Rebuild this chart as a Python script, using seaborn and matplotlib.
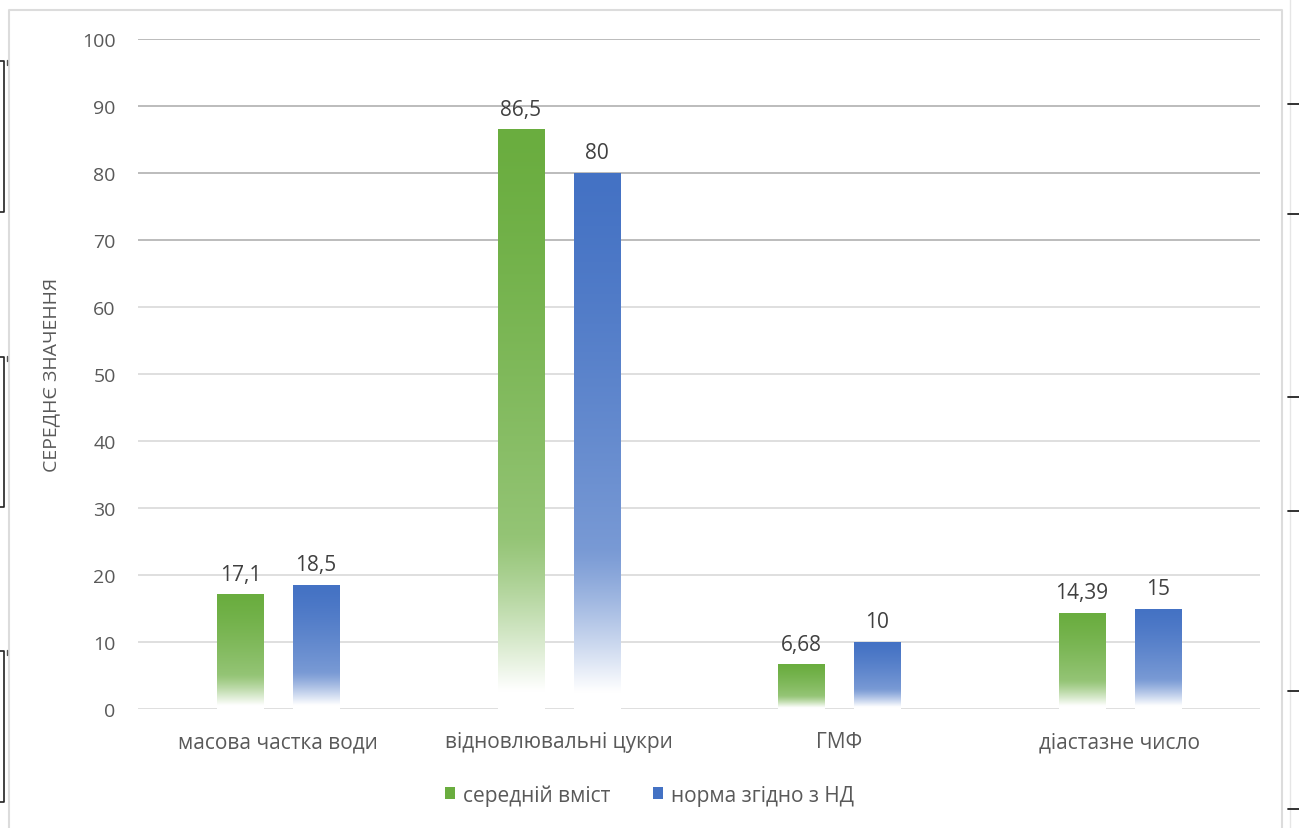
import numpy as np
import pandas as pd
import seaborn as sns
import matplotlib.pyplot as plt
from matplotlib.colors import to_rgb
from matplotlib.patches import Patch
from matplotlib.lines import Line2D

# дані з діаграми
categories = ["масова частка води", "відновлювальні цукри", "ГМФ", "діастазне число"]
mean_values = [17.1, 86.5, 6.68, 14.39]
norm_values = [18.5, 80, 10, 15]
series_names = ["середній вміст", "норма згідно з НД"]
colors = ["#6aad3f", "#4472c4"]
yticks = list(range(0, 101, 10))

df = pd.DataFrame({
    "cat": categories * 2,
    "value": mean_values + norm_values,
    "series": [series_names[0]] * 4 + [series_names[1]] * 4,
})

sns.set_style("white")
plt.rcParams["font.family"] = ["Open Sans", "DejaVu Sans"]
txt = "#595959"

fig = plt.figure(figsize=(12.99, 8.29), dpi=100)
ax = fig.add_axes([0.1062, 0.1435, 0.8638, 0.8082])

sns.barplot(data=df, x="cat", y="value", hue="series", palette=colors,
            width=0.54, gap=0.39, legend=False, ax=ax)

# градієнтна заливка стовпців (зверху насичений колір, знизу білий)
n = 256
t = np.linspace(0, 1, n)  # 0 = верх, 1 = низ
fade = np.where(t < 0.7, 0.28 * (t / 0.7) ** 1.3,
                0.28 + 0.72 * np.clip((t - 0.7) / 0.27, 0, 1) ** 1.2)
for i, p in enumerate(ax.patches):
    c = np.array(to_rgb(colors[i // 4]))
    rgb = c[None, :] * (1 - fade[:, None]) + fade[:, None]
    img = rgb[:, None, :]
    x0, y0 = p.get_x(), p.get_y()
    w, h = p.get_width(), p.get_height()
    im = ax.imshow(img, extent=[x0, x0 + w, y0, y0 + h], origin="upper",
                   aspect="auto", zorder=2, interpolation="bilinear")
    im.set_clip_path(p)
    p.set_facecolor("none")
    p.set_edgecolor("none")

    v = mean_values[i % 4] if i < 4 else norm_values[i % 4]
    ax.annotate(f"{v:g}".replace(".", ","), (x0 + w / 2, y0 + h), xytext=(0, 7),
                textcoords="offset points", ha="center", va="bottom",
                fontsize=15, color="#404040", zorder=3)

ax.set_xlim(-0.5, 3.5)
ax.set_ylim(0, 100)
ax.set_yticks(yticks)
ax.set_axisbelow(True)
ax.yaxis.grid(True, linewidth=1.2)
for val, gl in zip(yticks, ax.get_ygridlines()):
    gl.set_color("#b0b0b0" if val >= 70 else "#d9d9d9")
for s in ax.spines.values():
    s.set_visible(False)
ax.tick_params(length=0)
ax.tick_params(axis="y", labelsize=14, labelcolor=txt, pad=16)
ax.tick_params(axis="x", labelsize=15, labelcolor=txt, pad=16)
ax.set_xlabel("")
ax.set_ylabel("СЕРЕДНЄ ЗНАЧЕННЯ", fontsize=14, color=txt, labelpad=16)

handles = [Patch(facecolor=c, edgecolor="none") for c in colors]
fig.legend(handles, series_names, loc="center", bbox_to_anchor=(0.5, 0.040),
           ncol=2, frameon=False, fontsize=15, labelcolor=txt,
           handlelength=0.5, handleheight=0.5, handletextpad=0.4, columnspacing=2.0)

# рамка області діаграми та позначки полів документа
W, H = 1299, 829
def fl(xs, ys, **kw):
    fig.add_artist(Line2D([x / W for x in xs], [1 - y / H for y in ys], **kw))

fl([9, 9, 1282, 1282], [829, 11, 11, 829], color="#dcdcdc", lw=1.5)
for y0, y1 in [(62, 213), (358, 508), (652, 803)]:
    fl([0, 4, 4, 0], [y0, y0, y1, y1], color="#222222", lw=1.2)
    fl([7, 7], [y0 - 1, y0 + 4], color="#555555", lw=1)
fl([1290, 1290], [0, 829], color="#e6e6e6", lw=1)
for y in [105, 215, 398, 512, 692, 810]:
    fl([1288, 1299], [y, y], color="#222222", lw=1.3)

fig.savefig("out.png", dpi=100)
